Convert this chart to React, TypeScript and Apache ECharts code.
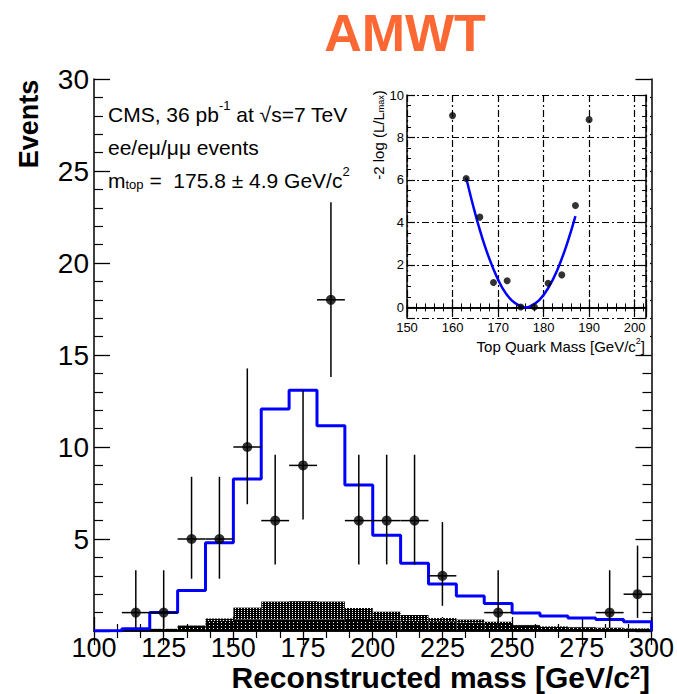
import React, { useEffect, useRef } from "react";
import * as echarts from "echarts";

// ---- main histogram data (10 GeV bins) ----
const binEdges = [100, 110, 120, 130, 140, 150, 160, 170, 180, 190, 200, 210, 220, 230, 240, 250, 260, 270, 280, 290, 300];
const signalMC = [0.02, 0.12, 1.0, 2.2, 4.8, 8.26, 12.07, 13.08, 11.16, 7.93, 5.2, 3.68, 2.55, 1.9, 1.5, 0.98, 0.82, 0.7, 0.62, 0.5];
const bgLower = [0, 0.05, 0.12, 0.28, 0.55, 0.62, 0.62, 0.62, 0.62, 0.6, 0.58, 0.55, 0.5, 0.45, 0.38, 0.28, 0.22, 0.2, 0.16, 0.13];
const bgUpper = [0, 0, 0, 0.02, 0.13, 0.65, 0.98, 1.0, 0.98, 0.65, 0.47, 0.32, 0.2, 0.17, 0.12, 0.05, 0.03, 0.02, 0.02, 0.02];

// ---- observed data ----
const dataMass = [115, 125, 135, 145, 155, 165, 175, 185, 195, 205, 215, 225, 245, 285, 295];
const dataEvents = [1, 1, 5, 5, 10, 6, 9, 18, 6, 6, 6, 3, 1, 1, 2];
const dataErrLow = [0.17, 0.17, 2.84, 2.84, 6.89, 3.62, 6.06, 13.8, 3.62, 3.62, 3.62, 1.37, 0.17, 0.17, 0.71];
const dataErrHigh = [3.3, 3.3, 8.38, 8.38, 14.27, 9.58, 13.06, 23.3, 9.58, 9.58, 9.58, 5.92, 3.3, 3.3, 4.64];
const binHalfWidth = 5;

// ---- inset: likelihood scan ----
const likeMass = [160, 163, 166, 169, 172, 175, 178, 181, 184, 187, 190];
const likeValue = [9.03, 6.07, 4.25, 1.17, 1.25, 0.02, 0.02, 1.14, 1.53, 4.8, 8.84];
const fitMass = [163, 165, 167, 169, 171, 173, 175, 176, 177, 179, 181, 183, 185, 187];
const fitValue = [6.1, 4.4, 2.95, 1.8, 0.9, 0.33, 0.04, 0, 0.04, 0.33, 0.9, 1.75, 2.9, 4.3];

const FONT = "'Liberation Sans', Arial, Helvetica, sans-serif";

function makePattern(w: number, h: number, dots: number[][]) {
  const c = document.createElement("canvas");
  c.width = w;
  c.height = h;
  const ctx = c.getContext("2d")!;
  ctx.fillStyle = "#000";
  ctx.fillRect(0, 0, w, h);
  ctx.fillStyle = "#fff";
  dots.forEach(([x, y]) => ctx.fillRect(x, y, 1, 1));
  return { image: c, repeat: "repeat", imageWidth: w, imageHeight: h } as any;
}

export default function App() {
  const ref = useRef<HTMLDivElement>(null);

  useEffect(() => {
    if (!ref.current) return;
    const chart = echarts.init(ref.current, null, { renderer: "svg" });

    const darkPat = makePattern(4, 3, [[1, 1]]);
    const lightPat = makePattern(3, 2, [[1, 0]]);

    const stepData: number[][] = binEdges.slice(0, -1).map((e, i) => [e, signalMC[i]]);
    stepData.push([binEdges[binEdges.length - 1], signalMC[signalMC.length - 1]]);
    stepData.push([binEdges[binEdges.length - 1], 0]);

    const lowerData = binEdges.slice(0, -1).map((e, i) => [e, binEdges[i + 1], 0, bgLower[i]]);
    const upperData = binEdges.slice(0, -1).map((e, i) => [e, binEdges[i + 1], bgLower[i], bgLower[i] + bgUpper[i]]);

    const rectRender = (pat: any) => (params: any, api: any) => {
      const a = api.coord([api.value(0), api.value(3)]);
      const b = api.coord([api.value(1), api.value(2)]);
      return {
        type: "rect",
        shape: { x: a[0], y: a[1], width: b[0] - a[0], height: b[1] - a[1] },
        style: { fill: pat },
      };
    };

    const errData = dataMass.map((m, i) => [m, dataEvents[i], dataErrLow[i], dataErrHigh[i]]);

    const axisLine = { show: true, lineStyle: { color: "#000", width: 1.5 } };
    const mainX = (pos: string, labels: boolean) => ({
      gridIndex: 0,
      type: "value",
      position: pos,
      min: 100,
      max: 300,
      interval: 25,
      axisLine,
      axisTick: { show: true, inside: true, length: 14, lineStyle: { color: "#000", width: 1.3 } },
      minorTick: { show: true, splitNumber: 3, length: 7, lineStyle: { color: "#000", width: 1.2 } },
      axisLabel: { show: labels, fontSize: 27, lineHeight: 24, color: "#000", margin: 5, fontFamily: FONT },
      splitLine: { show: false },
    });
    const mainY = (pos: string, labels: boolean) => ({
      gridIndex: 0,
      type: "value",
      position: pos,
      min: 0,
      max: 30,
      interval: 5,
      axisLine,
      axisTick: { show: true, inside: true, length: 16, lineStyle: { color: "#000", width: 1.3 } },
      minorTick: { show: true, splitNumber: 5, length: 9, lineStyle: { color: "#000", width: 1.2 } },
      axisLabel: {
        show: labels,
        fontSize: 28,
        color: "#000",
        margin: 5,
        fontFamily: FONT,
        formatter: (v: number) => (v === 0 ? "" : String(v)),
      },
      splitLine: { show: false },
    });
    const dashDot = { color: "#000", width: 1.2, type: [7, 3, 2, 3] };
    const insetX = (pos: string, labels: boolean) => ({
      gridIndex: 1,
      type: "value",
      position: pos,
      min: 150,
      max: 202.5,
      interval: 10,
      z: 10,
      axisLine,
      axisTick: { show: true, inside: true, length: 8, lineStyle: { color: "#000", width: 1.2 } },
      minorTick: { show: true, splitNumber: 5, length: 4, lineStyle: { color: "#000", width: 1 } },
      axisLabel: {
        show: labels,
        fontSize: 13,
        color: "#000",
        margin: 3,
        fontFamily: FONT,
        formatter: (v: number) => (v % 10 === 0 ? String(v) : ""),
      },
      splitLine: { show: labels, lineStyle: dashDot },
    });
    const insetY = (pos: string, labels: boolean) => ({
      gridIndex: 1,
      type: "value",
      position: pos,
      min: -0.5,
      max: 10,
      splitNumber: 5,
      z: 10,
      axisLine,
      axisTick: { show: true, inside: true, length: 8, lineStyle: { color: "#000", width: 1.2 } },
      minorTick: { show: true, splitNumber: 4, length: 4, lineStyle: { color: "#000", width: 1 } },
      axisLabel: {
        show: labels,
        fontSize: 13,
        color: "#000",
        margin: 3,
        fontFamily: FONT,
        formatter: (v: number) => (v >= 0 && v % 2 === 0 ? String(v) : ""),
      },
      splitLine: { show: labels, lineStyle: dashDot },
    });

    const richBase = {
      a: { fontSize: 21, fontFamily: FONT, color: "#000", lineHeight: 26, verticalAlign: "bottom" },
      sup: { fontSize: 13, fontFamily: FONT, color: "#000", lineHeight: 13, verticalAlign: "top" },
      sub: { fontSize: 13, fontFamily: FONT, color: "#000", lineHeight: 13, verticalAlign: "bottom" },
    };
    const richSmall = {
      a: { fontSize: 15, fontFamily: FONT, color: "#000", lineHeight: 17, verticalAlign: "bottom" },
      sup: { fontSize: 9, fontFamily: FONT, color: "#000", lineHeight: 9, verticalAlign: "top" },
      sub: { fontSize: 9, fontFamily: FONT, color: "#000", lineHeight: 9, verticalAlign: "bottom" },
    };
    const richBold = {
      a: { fontSize: 30, fontWeight: "bold", fontFamily: FONT, color: "#000", lineHeight: 28, verticalAlign: "bottom" },
      sup: { fontSize: 18, fontWeight: "bold", fontFamily: FONT, color: "#000", lineHeight: 14, verticalAlign: "top" },
    };

    const option: any = {
      animation: false,
      backgroundColor: "#fff",
      grid: [
        { left: 94, top: 79, width: 558, height: 552, containLabel: false },
        { left: 407, top: 95, width: 239, height: 223, containLabel: false },
      ],
      xAxis: [mainX("bottom", true), mainX("top", false), insetX("bottom", true), insetX("top", false)],
      yAxis: [mainY("left", true), mainY("right", false), insetY("left", true), insetY("right", false)],
      graphic: [
        {
          type: "text",
          x: 405,
          y: 33,
          z: 20,
          style: {
            text: "AMWT",
            font: `bold 52px ${FONT}`,
            fill: "#fc6834",
            align: "center",
            verticalAlign: "middle",
            textAlign: "center",
            textVerticalAlign: "middle",
          },
        },
        {
          type: "text",
          x: 29,
          y: 124,
          z: 20,
          rotation: Math.PI / 2,
          style: {
            text: "Events",
            font: `bold 27px ${FONT}`,
            fill: "#000",
            align: "center",
            verticalAlign: "middle",
            textAlign: "center",
            textVerticalAlign: "middle",
          },
        },
        {
          type: "text",
          x: 650,
          y: 678,
          z: 20,
          style: {
            text: "{a|Reconstructed mass [GeV/c}{sup|2}{a|]}",
            rich: richBold,
            align: "right",
            verticalAlign: "middle",
            textAlign: "right",
            textVerticalAlign: "middle",
          },
        },
        {
          type: "text",
          x: 108,
          y: 112,
          z: 20,
          style: {
            text: "{a|CMS, 36 pb}{sup|-1}{a| at √s=7 TeV}",
            rich: richBase,
            align: "left",
            verticalAlign: "middle",
            textAlign: "left",
            textVerticalAlign: "middle",
          },
        },
        {
          type: "text",
          x: 108,
          y: 145,
          z: 20,
          style: {
            text: "{a|ee/eμ/μμ events}",
            rich: richBase,
            align: "left",
            verticalAlign: "middle",
            textAlign: "left",
            textVerticalAlign: "middle",
          },
        },
        {
          type: "text",
          x: 108,
          y: 178,
          z: 20,
          style: {
            text: "{a|m}{sub|top}{a| =  175.8 ± 4.9 GeV/c}{sup|2}",
            rich: richBase,
            align: "left",
            verticalAlign: "middle",
            textAlign: "left",
            textVerticalAlign: "middle",
          },
        },
        {
          type: "rect",
          z: 5,
          shape: { x: 362, y: 81, width: 288, height: 271 },
          style: { fill: "#fff" },
        },
        {
          type: "text",
          x: 377,
          y: 135,
          z: 20,
          rotation: Math.PI / 2,
          style: {
            text: "{a|-2 log (L/L}{sub|max}{a|)}",
            rich: richSmall,
            align: "center",
            verticalAlign: "middle",
            textAlign: "center",
            textVerticalAlign: "middle",
          },
        },
        {
          type: "text",
          x: 645,
          y: 345,
          z: 20,
          style: {
            text: "{a|Top Quark Mass [GeV/c}{sup|2}{a|]}",
            rich: richSmall,
            align: "right",
            verticalAlign: "middle",
            textAlign: "right",
            textVerticalAlign: "middle",
          },
        },
      ],
      series: [
        {
          type: "custom",
          xAxisIndex: 0,
          yAxisIndex: 0,
          data: lowerData,
          encode: { x: [0, 1], y: [2, 3] },
          renderItem: rectRender(darkPat),
          z: 1,
        },
        {
          type: "custom",
          xAxisIndex: 0,
          yAxisIndex: 0,
          data: upperData,
          encode: { x: [0, 1], y: [2, 3] },
          renderItem: rectRender(lightPat),
          z: 1,
        },
        {
          type: "line",
          xAxisIndex: 0,
          yAxisIndex: 0,
          data: stepData,
          step: "end",
          showSymbol: false,
          symbol: "none",
          lineStyle: { color: "#0000ff", width: 3 },
          z: 3,
        },
        {
          type: "custom",
          xAxisIndex: 0,
          yAxisIndex: 0,
          data: errData,
          encode: { x: 0, y: [1, 2, 3] },
          renderItem: (params: any, api: any) => {
            const x = api.value(0);
            const y = api.value(1);
            const lo = api.value(2);
            const hi = api.value(3);
            const pLo = api.coord([x, lo]);
            const pHi = api.coord([x, hi]);
            const pL = api.coord([x - binHalfWidth, y]);
            const pR = api.coord([x + binHalfWidth, y]);
            const st = { stroke: "#000", lineWidth: 1.5 };
            return {
              type: "group",
              children: [
                { type: "line", shape: { x1: pLo[0], y1: pLo[1], x2: pHi[0], y2: pHi[1] }, style: st },
                { type: "line", shape: { x1: pL[0], y1: pL[1], x2: pR[0], y2: pR[1] }, style: st },
              ],
            };
          },
          z: 4,
        },
        {
          type: "scatter",
          xAxisIndex: 0,
          yAxisIndex: 0,
          data: dataMass.map((m, i) => [m, dataEvents[i]]),
          symbol: "circle",
          symbolSize: 10,
          itemStyle: { color: "#000" },
          z: 5,
        },
        {
          type: "line",
          xAxisIndex: 2,
          yAxisIndex: 2,
          data: fitMass.map((m, i) => [m, fitValue[i]]),
          smooth: 0.4,
          showSymbol: false,
          symbol: "none",
          lineStyle: { color: "#0000ff", width: 2.5 },
          z: 11,
        },
        {
          type: "scatter",
          xAxisIndex: 2,
          yAxisIndex: 2,
          data: likeMass.map((m, i) => [m, likeValue[i]]),
          symbol: "circle",
          symbolSize: 7,
          itemStyle: { color: "#000" },
          z: 12,
        },
      ],
    };

    chart.setOption(option);
    return () => chart.dispose();
  }, []);

  return (
    <div
      ref={ref}
      style={{ position: "fixed", left: 0, top: 0, width: 677, height: 694, background: "#fff" }}
    />
  );
}
